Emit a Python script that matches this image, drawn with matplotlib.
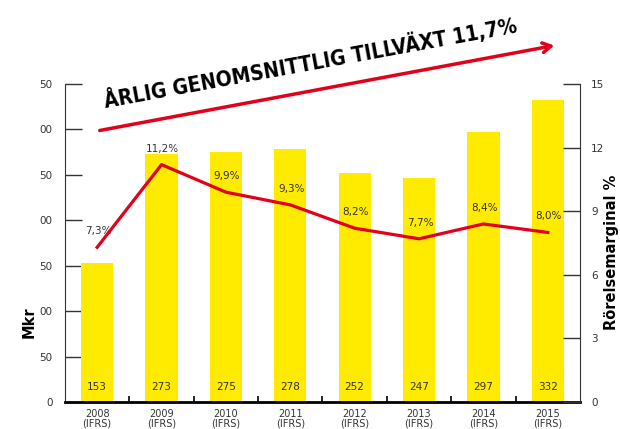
import numpy as np
import matplotlib.pyplot as plt
from matplotlib.patches import FancyArrowPatch

years = ['2008', '2009', '2010', '2011', '2012', '2013', '2014', '2015']
sales = [153, 273, 275, 278, 252, 247, 297, 332]
margin = [7.3, 11.2, 9.9, 9.3, 8.2, 7.7, 8.4, 8.0]
left_ticks = [0, 50, 100, 150, 200, 250, 300, 350]
left_tick_labels = ['0', '50', '00', '50', '00', '50', '00', '50']
right_ticks = [0, 3, 6, 9, 12, 15]

YELLOW = '#ffeb00'
RED = '#e2001a'
GRAY = '#333333'

fig = plt.figure(figsize=(6.2, 4.29), dpi=100)
ax = fig.add_axes([0.1048, 0.063, 0.8307, 0.741])
x = np.arange(len(years))

ax.bar(x, sales, width=0.5, color=YELLOW, zorder=2)
for xi, v in zip(x, sales):
    ax.text(xi, 16, str(v), ha='center', va='center', fontsize=7.5, color=GRAY, zorder=3)

ax.set_xlim(-0.5, len(years) - 0.5)
ax.set_ylim(0, 350)
ax.set_yticks(left_ticks)
ax.set_yticklabels(left_tick_labels)
ax.set_xticks(x)
ax.set_xticklabels([y + '\n(IFRS)' for y in years], fontsize=7, color=GRAY, linespacing=0.9)
ax.set_xticks(x[:-1] + 0.5, minor=True)
ax.tick_params(axis='x', which='major', length=0, pad=5)
ax.tick_params(axis='x', which='minor', direction='in', length=4, width=1.2, color='black')
ax.tick_params(axis='y', direction='in', length=12, width=1, color=GRAY, labelsize=7.5,
               labelcolor=GRAY, pad=9)
ax.spines['top'].set_visible(False)
ax.spines['right'].set_visible(False)
ax.spines['left'].set_color(GRAY)
ax.spines['bottom'].set_linewidth(2)
ax.set_ylabel('Mkr', fontsize=10.5, fontweight='bold')
ax.yaxis.set_label_coords(-0.056, 0.25)

ax2 = ax.twinx()
ax2.set_ylim(0, 15)
ax2.set_yticks(right_ticks)
ax2.plot(x, margin, color=RED, lw=2.3, zorder=4)
for xi, m in zip(x, margin):
    ax2.annotate(f'{m:.1f}%'.replace('.', ','), (xi, m), xytext=(1, 16),
                 textcoords='offset pixels', ha='center', va='center',
                 fontsize=7.5, color=GRAY)
ax2.tick_params(axis='y', direction='in', length=12, width=1, color=GRAY, labelsize=7.5,
                labelcolor=GRAY, pad=8)
for s in ['top', 'left', 'bottom']:
    ax2.spines[s].set_visible(False)
ax2.spines['right'].set_color(GRAY)
ax2.set_ylabel('Rörelsemarginal %', fontsize=10.5, fontweight='bold')
ax2.yaxis.set_label_coords(1.047, 0.47)

# growth arrow and heading
fig.patches.append(FancyArrowPatch(
    (97 / 620, 1 - 131 / 429), (557 / 620, 1 - 45 / 429), transform=fig.transFigure,
    arrowstyle='->,head_length=6,head_width=3.5', color=RED, lw=2.5, mutation_scale=1))
fig.text(105 / 620, 1 - 108 / 429, 'ÅRLIG GENOMSNITTLIG TILLVÄXT 11,7%', rotation=10.4,
         rotation_mode='anchor', ha='left', va='baseline', fontsize=15, fontweight='bold',
         fontstretch='condensed', family=['DejaVu Sans'])

fig.savefig('out.png', dpi=100)
